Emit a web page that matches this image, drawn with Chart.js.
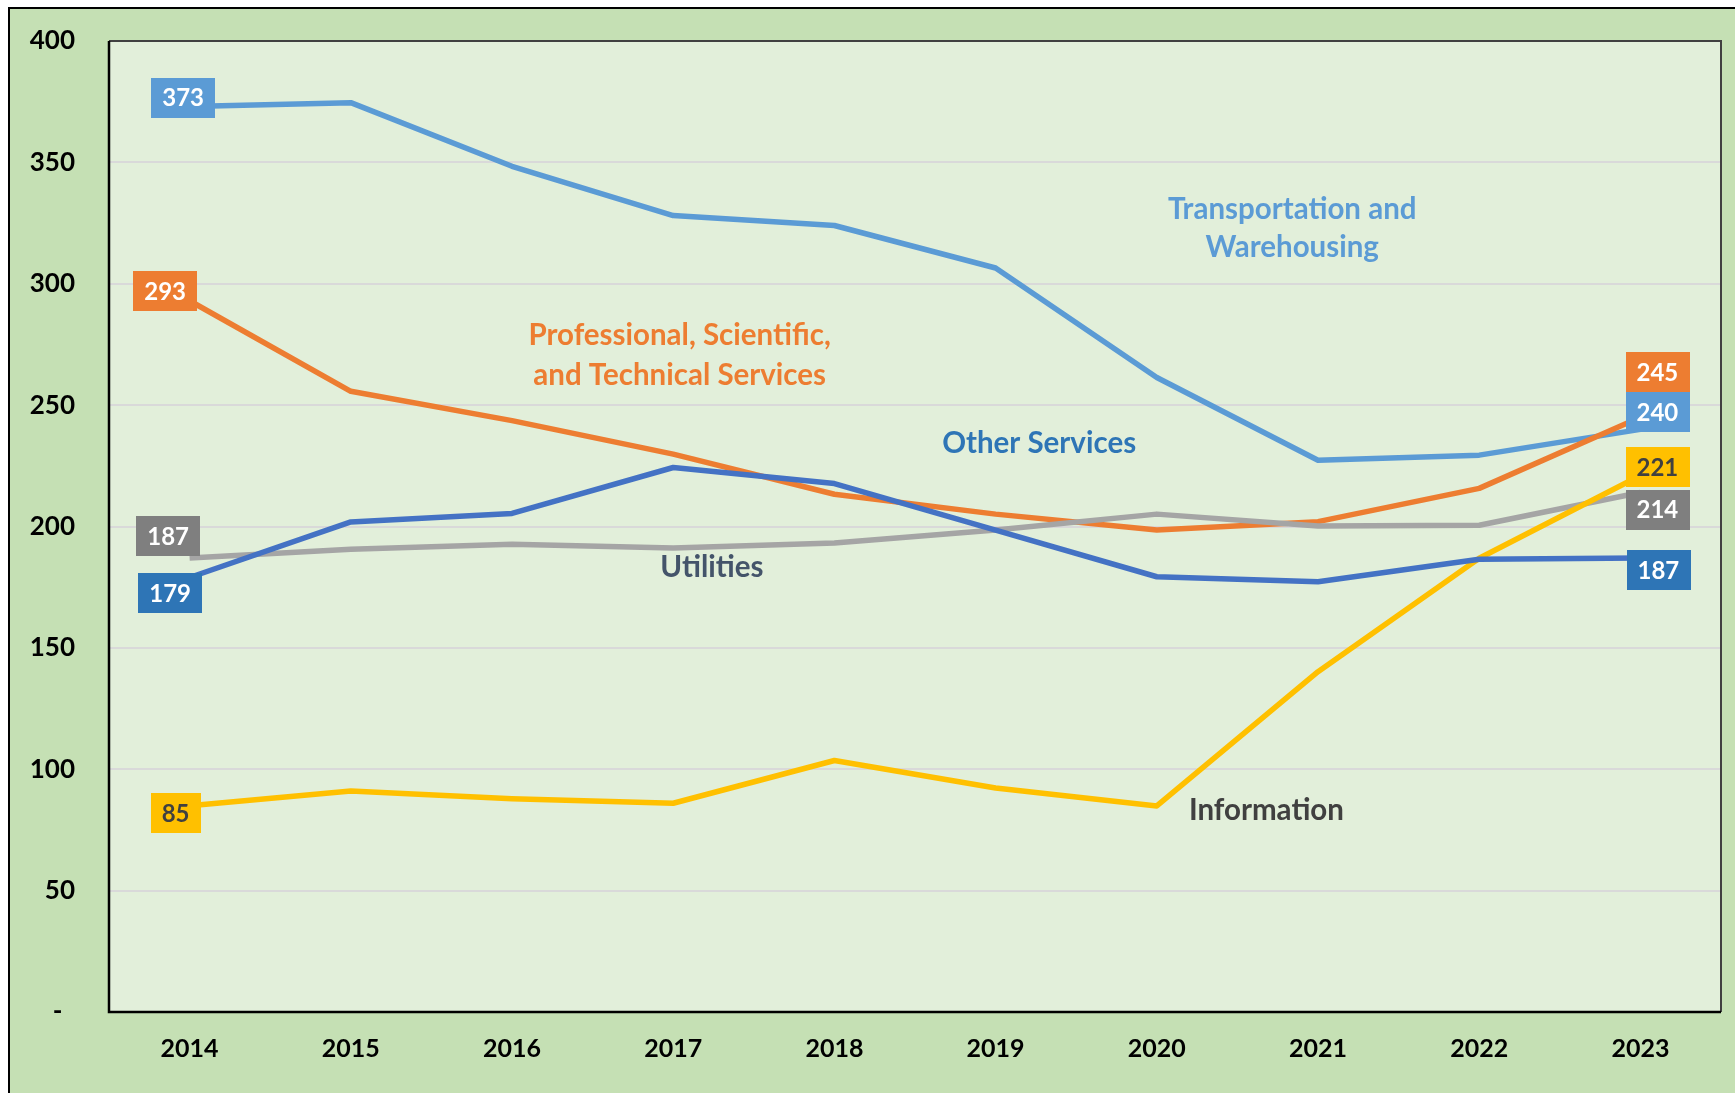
<!DOCTYPE html>
<html>
<head>
<meta charset="utf-8">
<script src="https://cdn.jsdelivr.net/npm/chart.js@4.4.1/dist/chart.umd.min.js"></script>
<style>
  html, body { margin: 0; padding: 0; background: #ffffff; }
  canvas { display: block; }
</style>
</head>
<body>
<canvas id="c" width="1735" height="1093"></canvas>
<script>
// ---------- DATA ----------
const years = ['2014','2015','2016','2017','2018','2019','2020','2021','2022','2023'];
const transportation = [373, 374.6, 348.4, 328.1, 324, 306.5, 261.4, 227.3, 229.4, 240];
const professional   = [293, 255.7, 243.6, 229.8, 213.3, 205.1, 198.6, 202, 215.7, 245];
const utilities      = [187, 190.6, 192.7, 191.1, 193.2, 198.6, 205.1, 200.2, 200.5, 214];
const information    = [85, 91, 87.8, 86, 103.6, 92.3, 84.9, 140.2, 186.9, 221];
const otherServices  = [179, 201.9, 205.4, 224.3, 217.7, 198.5, 179.3, 177.2, 186.5, 187];
const yTickValues    = [0, 50, 100, 150, 200, 250, 300, 350, 400];
const seriesNames    = ['Transportation and Warehousing', 'Professional, Scientific, and Technical Services', 'Utilities', 'Information', 'Other Services'];

// ---------- STYLES ----------
const FONT = 'Lato, "Open Sans", "DejaVu Sans", sans-serif';
const lineColors = ['#5B9BD5', '#ED7D31', '#A5A5A5', '#FFC000', '#4472C4'];
const boxColors  = ['#5B9BD5', '#ED7D31', '#7F7F7F', '#FFC000', '#2E75B6'];
const boxText    = ['#FFFFFF', '#FFFFFF', '#FFFFFF', '#404040', '#FFFFFF'];
// label box offsets (px) from first / last point
const startOff = [[-6.5, -9], [-24.5, -9.4], [-21.5, -21.7], [-14, 7.3], [-19.5, 15.3]];
const endOff   = [[17, -17], [17, -45], [17, 17], [17, -8.5], [18, 12]];
// in-plot series titles: lines, colour, anchor (category index, value), line height
const titles = [
  { lines: ['Transportation and', 'Warehousing'], color: '#5B9BD5', at: [6.84, 322.6], lh: 38 },
  { lines: ['Professional, Scientific,', 'and Technical Services'], color: '#ED7D31', at: [3.04, 270.6], lh: 40 },
  { lines: ['Utilities'], color: '#44546A', at: [3.24, 183.3], lh: 38 },
  { lines: ['Information'], color: '#404040', at: [6.68, 83.2], lh: 38 },
  { lines: ['Other Services'], color: '#2E75B6', at: [5.27, 234.4], lh: 38 }
];

const seriesData = [transportation, professional, utilities, information, otherServices];
const drawOrder = [5, 4, 3, 2, 1];

const bgPlugin = {
  id: 'bg',
  beforeDraw(chart) {
    const ctx = chart.ctx;
    const a = chart.chartArea;
    ctx.save();
    ctx.fillStyle = '#FFFFFF';
    ctx.fillRect(0, 0, chart.width, chart.height);
    ctx.fillStyle = '#C5E0B4';
    ctx.fillRect(8, 7, chart.width + 20, chart.height + 20);
    ctx.strokeStyle = '#000000';
    ctx.lineWidth = 2;
    ctx.strokeRect(9, 8, chart.width + 20, chart.height + 20);
    ctx.fillStyle = '#E2EFDA';
    ctx.fillRect(a.left, a.top, a.right - a.left, a.bottom - a.top);
    ctx.restore();
  },
  beforeDatasetsDraw(chart) {
    const ctx = chart.ctx;
    const a = chart.chartArea;
    ctx.save();
    ctx.strokeStyle = '#404040';
    ctx.lineWidth = 2;
    ctx.beginPath();
    ctx.moveTo(a.left, a.top); ctx.lineTo(a.right, a.top); ctx.lineTo(a.right, a.bottom);
    ctx.stroke();
    ctx.strokeStyle = '#000000';
    ctx.lineWidth = 2.5;
    ctx.beginPath();
    ctx.moveTo(a.left, a.top); ctx.lineTo(a.left, a.bottom); ctx.lineTo(a.right, a.bottom);
    ctx.stroke();
    ctx.restore();
  },
  afterDatasetsDraw(chart) {
    const ctx = chart.ctx;
    const xs = chart.scales.x, ys = chart.scales.y;
    ctx.save();
    // series titles
    ctx.font = 'bold 29.5px ' + FONT;
    ctx.textAlign = 'center';
    ctx.textBaseline = 'middle';
    titles.forEach(t => {
      const cx = xs.getPixelForValue(t.at[0]);
      const cy = ys.getPixelForValue(t.at[1]);
      const y0 = cy - (t.lines.length - 1) * t.lh / 2;
      ctx.fillStyle = t.color;
      t.lines.forEach((ln, i) => ctx.fillText(ln, cx, y0 + i * t.lh));
    });
    // value boxes at first and last points
    ctx.font = 'bold 24px ' + FONT;
    chart.data.datasets.forEach((ds, i) => {
      const meta = chart.getDatasetMeta(i);
      const pts = meta.data;
      const ends = [[0, startOff[i]], [pts.length - 1, endOff[i]]];
      ends.forEach(([idx, off]) => {
        const p = pts[idx];
        const txt = String(Math.round(ds.data[idx]));
        const tw = ctx.measureText(txt).width;
        const w = tw + 22, h = 40;
        const cx = p.x + off[0], cy = p.y + off[1];
        ctx.fillStyle = boxColors[i];
        ctx.fillRect(Math.round(cx - w / 2), Math.round(cy - h / 2), Math.round(w), h);
        ctx.fillStyle = boxText[i];
        ctx.fillText(txt, cx, cy + 1);
      });
    });
    ctx.restore();
  }
};

new Chart(document.getElementById('c'), {
  type: 'line',
  data: {
    labels: years,
    datasets: seriesData.map((d, i) => ({
      label: seriesNames[i],
      data: d,
      borderColor: lineColors[i],
      backgroundColor: lineColors[i],
      borderWidth: 5.5,
      pointRadius: 0,
      pointHoverRadius: 0,
      tension: 0,
      fill: false,
      borderJoinStyle: 'round',
      order: drawOrder[i]
    }))
  },
  options: {
    responsive: false,
    animation: false,
    events: [],
    layout: { padding: { left: 0, right: 14, top: 41, bottom: 0 } },
    plugins: { legend: { display: false }, tooltip: { enabled: false } },
    scales: {
      x: {
        type: 'category',
        offset: true,
        grid: { display: false, drawTicks: false },
        border: { display: false },
        ticks: { color: '#000000', font: { family: FONT, size: 25, weight: 'bold' }, padding: 22, maxRotation: 0 },
        afterFit(s) { s.height = 81; s.paddingLeft = 0; s.paddingRight = 0; }
      },
      y: {
        min: 0, max: 400,
        afterBuildTicks(s) { s.ticks = yTickValues.map(v => ({ value: v })); },
        grid: {
          drawTicks: false,
          lineWidth: 2,
          color: c => (c.tick && (c.tick.value === 0 || c.tick.value === 400)) ? 'rgba(0,0,0,0)' : '#D9D9D9'
        },
        border: { display: false },
        ticks: {
          color: '#000000',
          padding: 34,
          font: { family: FONT, size: 26, weight: 'bold' },
          callback: v => v === 0 ? '-  ' : String(v)
        },
        afterFit(s) { s.width = 109; s.paddingTop = 0; s.paddingBottom = 0; }
      }
    }
  },
  plugins: [bgPlugin]
});
</script>
</body>
</html>
